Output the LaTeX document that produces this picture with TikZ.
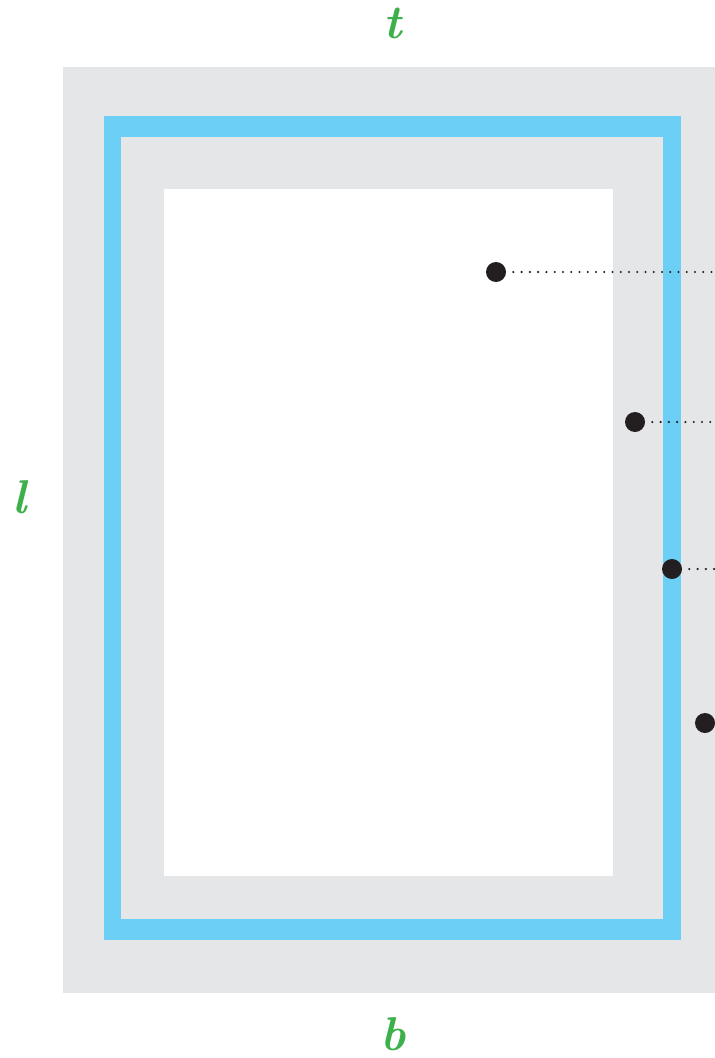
\documentclass[tikz,border=0pt]{standalone}
\usepackage{tikz}
\usepackage{xcolor}

\definecolor{sheetgray}{HTML}{E5E6E8}
\definecolor{bandblue}{HTML}{6CCFF6}
\definecolor{labgreen}{HTML}{3DB04B}
\definecolor{dotblack}{HTML}{231F20}

\tikzset{
  side/.style={text=labgreen,font=\fontsize{27}{30}\selectfont\bfseries\itshape,inner sep=0pt},
  pin/.style={circle,fill=dotblack,minimum size=20*0.02cm,inner sep=0pt},
  leader/.style={dotblack,line width=1.3pt,line cap=round,dash pattern=on 0pt off 4.7pt}
}

\begin{document}
\begin{tikzpicture}[x=0.02cm,y=-0.02cm]
\useasboundingbox (0,0) rectangle (715,1058);
% sheet and frame
\fill[sheetgray] (63,67) rectangle (715,993);
\fill[bandblue] (104,116) rectangle (681,940);
\fill[sheetgray] (121,137) rectangle (663,919);
\fill[white] (164,189) rectangle (613,876);
% side letters
\node[side] (t) at (393,23) {t};
\node[side] (l) at (20,497) {l};
\node[side] (b) at (393,1034) {b};
% pins
\node[pin] (p1) at (496,272) {};
\node[pin] (p2) at (635,422) {};
\node[pin] (p3) at (672,569) {};
\node[pin] (p4) at (705,723) {};
\coordinate (e1) at (715,272);
\coordinate (e2) at (715,422);
\coordinate (e3) at (715,569);
\draw[leader,shorten <=7*0.02cm] (p1) -- (e1);
\draw[leader,shorten <=7*0.02cm] (p2) -- (e2);
\draw[leader,shorten <=7*0.02cm] (p3) -- (e3);
\end{tikzpicture}
\end{document}
